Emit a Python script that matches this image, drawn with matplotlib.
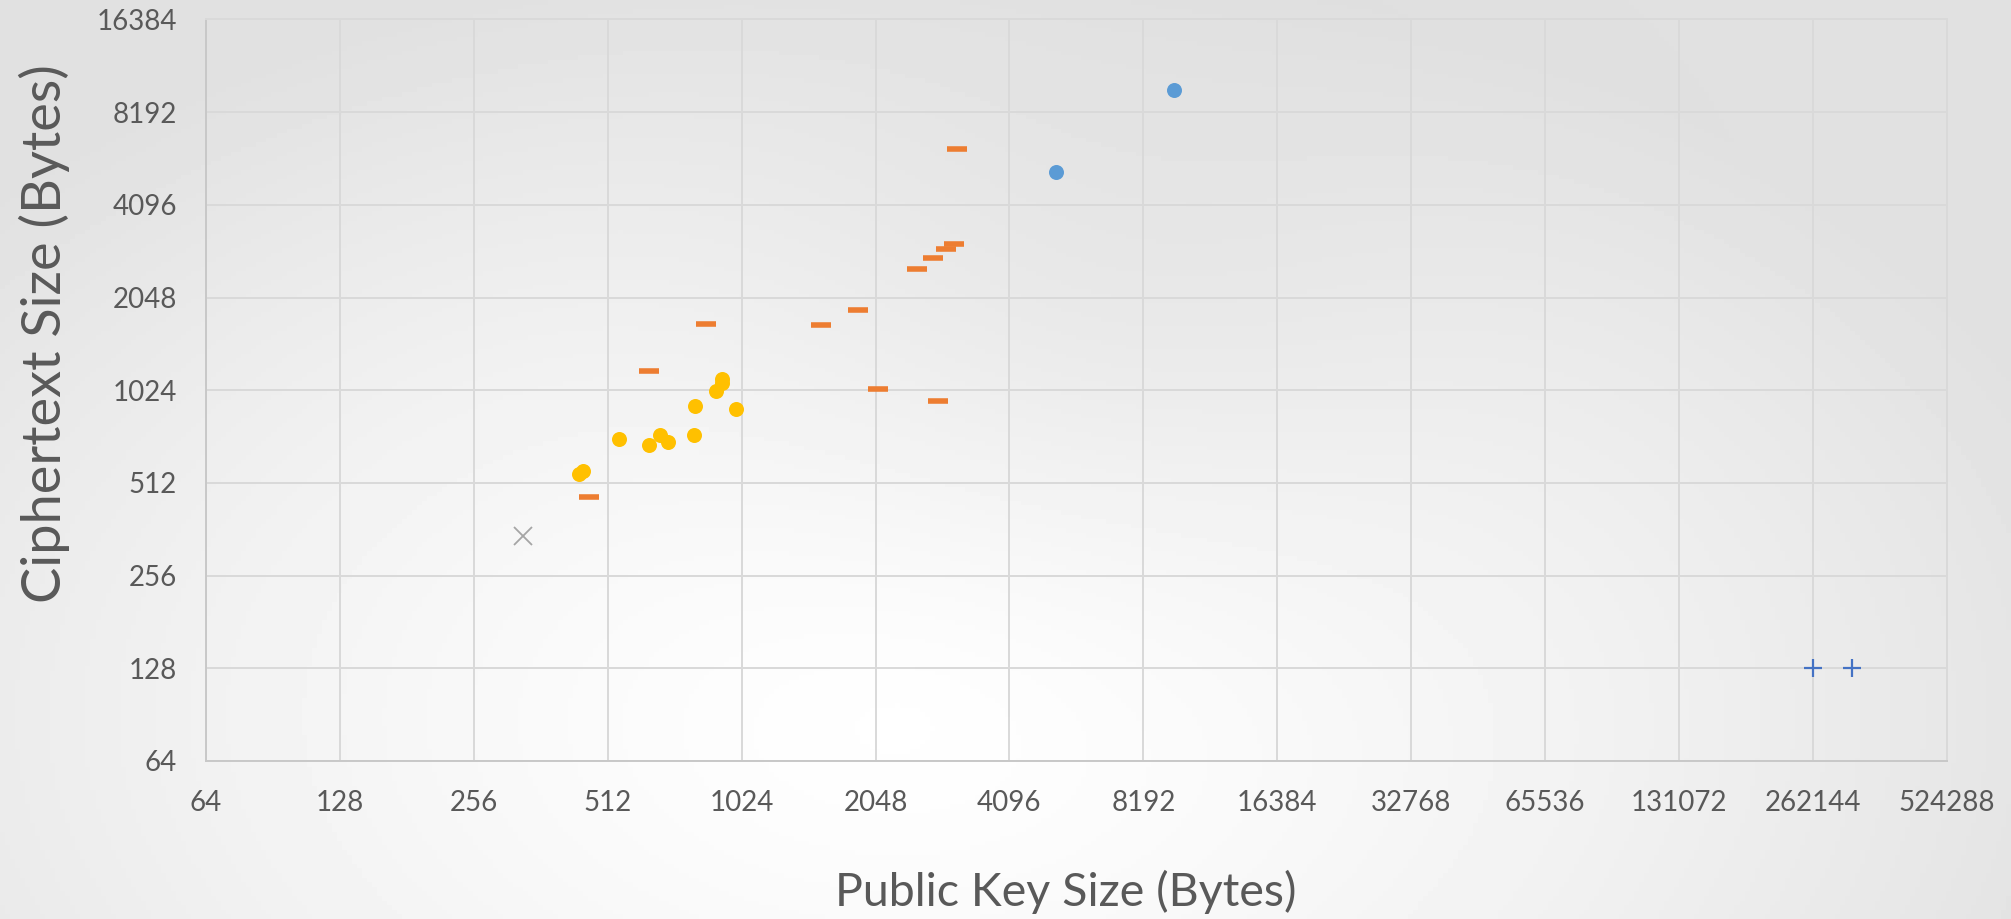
import numpy as np
import matplotlib
matplotlib.use("Agg")
import matplotlib.pyplot as plt

plt.rcParams['font.family'] = ['Lato', 'DejaVu Sans']

# public key size / ciphertext size (bytes), grouped as in the reference
blue_x = [5217, 9600]
blue_y = [5227, 9700]

orange_x = [465, 633, 852, 1543, 1869, 2077, 2827, 2540, 2759, 2951, 3070, 3130]
orange_y = [462, 1185, 1685, 1668, 1865, 1036, 943, 2540, 2759, 2953, 3066, 6229]

gray_x = [330]
gray_y = [344]

yellow_x = [442, 451, 542, 633, 670, 698, 803, 799, 896, 925, 924, 993]
yellow_y = [547, 560, 710, 681, 735, 696, 913, 733, 1021, 1114, 1079, 893]

plus_x = [262144, 321000]
plus_y = [128, 128]

xticks = [2 ** k for k in range(6, 20)]
yticks = [2 ** k for k in range(6, 15)]

fig = plt.figure(figsize=(20.11, 9.19), dpi=100)

# background gradient
bg = fig.add_axes([0, 0, 1, 1], zorder=-10)
gx, gy = np.meshgrid(np.linspace(0, 1, 400), np.linspace(0, 1, 200))
d = np.sqrt(((gx - 0.45) * 1.2) ** 2 + ((gy - 0.22) * 0.9) ** 2)
val = 1 - 0.12 * np.clip(d / 0.75, 0, 1) ** 1.4
val -= 0.035 * np.exp(-(((gx - 0.55) / 0.18) ** 2 + ((gy - 0.65) / 0.3) ** 2))
bg.imshow(val, cmap='gray', vmin=0, vmax=1, extent=[0, 1, 0, 1], origin='lower', aspect='auto')
bg.axis('off')

ax = fig.add_axes([0.1024, 0.172, 0.8657, 0.8068])
ax.patch.set_alpha(0)
ax.set_xscale('log', base=2)
ax.set_yscale('log', base=2)
ax.set_xlim(64, 524288)
ax.set_ylim(64, 16384)

ax.plot(blue_x, blue_y, 'o', color='#5B9BD5', ms=10.8, mec='none', zorder=3)
ax.plot(orange_x, orange_y, '_', color='#ED7D31', ms=14.5, mew=4, zorder=3)
ax.plot(gray_x, gray_y, 'x', color='#A5A5A5', ms=13, mew=1.3, zorder=3)
ax.plot(yellow_x, yellow_y, 'o', color='#FFC000', ms=10.8, mec='none', zorder=3)
ax.plot(plus_x, plus_y, '+', color='#4472C4', ms=13.5, mew=1.6, zorder=3)

ax.set_xticks(xticks)
ax.set_xticklabels([str(v) for v in xticks])
ax.set_yticks(yticks)
ax.set_yticklabels([str(v) for v in yticks])
ax.minorticks_off()
ax.tick_params(length=0, labelsize=20, labelcolor='#595959', pad=21)
ax.grid(True, color='#d9d9d9', lw=1.4)
for s in ax.spines.values():
    s.set_color('#d9d9d9')
    s.set_linewidth(1.4)
ax.spines['left'].set_color('#c8c8c8')
ax.spines['bottom'].set_color('#c8c8c8')

fig.text(0.530, 0.029, 'Public Key Size (Bytes)', ha='center', va='center',
         fontsize=33.5, color='#595959')
fig.text(0.022, 0.637, 'Ciphertext Size (Bytes)', ha='center', va='center',
         rotation=90, fontsize=39, color='#595959')

fig.savefig('out.png', dpi=100)
